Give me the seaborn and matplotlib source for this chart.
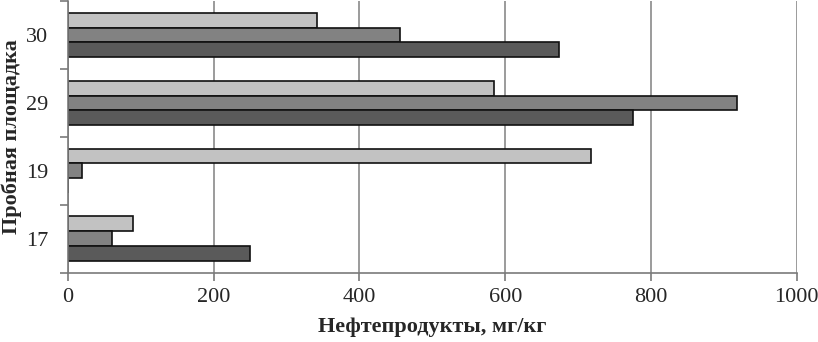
import matplotlib
matplotlib.use("Agg")
import matplotlib.pyplot as plt
import seaborn as sns
import pandas as pd
from matplotlib.ticker import FixedLocator

# Пробные площадки (сверху вниз)
plots = ["30", "29", "19", "17"]
series_names = ["Серия 1", "Серия 2", "Серия 3"]
series_1 = [342, 584, 718, 89]
series_2 = [456, 918, 20, 60]
series_3 = [674, 775, 0, 250]

x_ticks = [0, 200, 400, 600, 800, 1000]


def main():
    rows = []
    for name, values in zip(series_names, [series_1, series_2, series_3]):
        for plot_id, v in zip(plots, values):
            rows.append({"plot": plot_id, "series": name, "value": v})
    data = pd.DataFrame(rows)

    sns.set_style("white")
    plt.rcParams["font.family"] = ["Liberation Serif", "DejaVu Serif"]

    fig, ax = plt.subplots(figsize=(8.18, 3.42), dpi=100)
    palette = ["#c2c2c2", "#828282", "#5a5a5a"]
    sns.barplot(
        data=data, x="value", y="plot", hue="series",
        order=plots, hue_order=series_names, palette=palette,
        orient="h", width=0.66, edgecolor="#111111", linewidth=1.2,
        saturation=1, legend=False, ax=ax,
    )

    ax.set_xlim(0, 1000)
    ax.set_ylim(3.5, -0.5)
    ax.set_xticks(x_ticks)
    ax.xaxis.grid(True, color="#8a8a8a", linewidth=1.2)
    ax.yaxis.grid(False)
    ax.set_axisbelow(True)

    for side in ["top", "right"]:
        ax.spines[side].set_visible(False)
    for side in ["left", "bottom"]:
        ax.spines[side].set_color("#7a7a7a")
        ax.spines[side].set_linewidth(1.2)

    # метки на границах категорий, подписи по центру
    ax.yaxis.set_minor_locator(FixedLocator([-0.5, 0.5, 1.5, 2.5, 3.5]))
    ax.tick_params(axis="y", which="major", length=0, pad=14, labelsize=16)
    ax.tick_params(axis="y", which="minor", length=6, width=1.2, color="#7a7a7a", left=True)
    ax.tick_params(axis="x", which="major", length=6, width=1.2, color="#7a7a7a",
                   bottom=True, labelsize=16, pad=5)

    ax.set_xlabel("Нефтепродукты, мг/кг", fontsize=16, fontweight="bold", labelpad=7)
    ax.set_ylabel("Пробная площадка", fontsize=16, fontweight="bold", labelpad=3)

    fig.subplots_adjust(left=0.083, right=0.974, top=0.997, bottom=0.202)
    fig.savefig("out.png", dpi=100)
    plt.close(fig)


if __name__ == "__main__":
    main()
